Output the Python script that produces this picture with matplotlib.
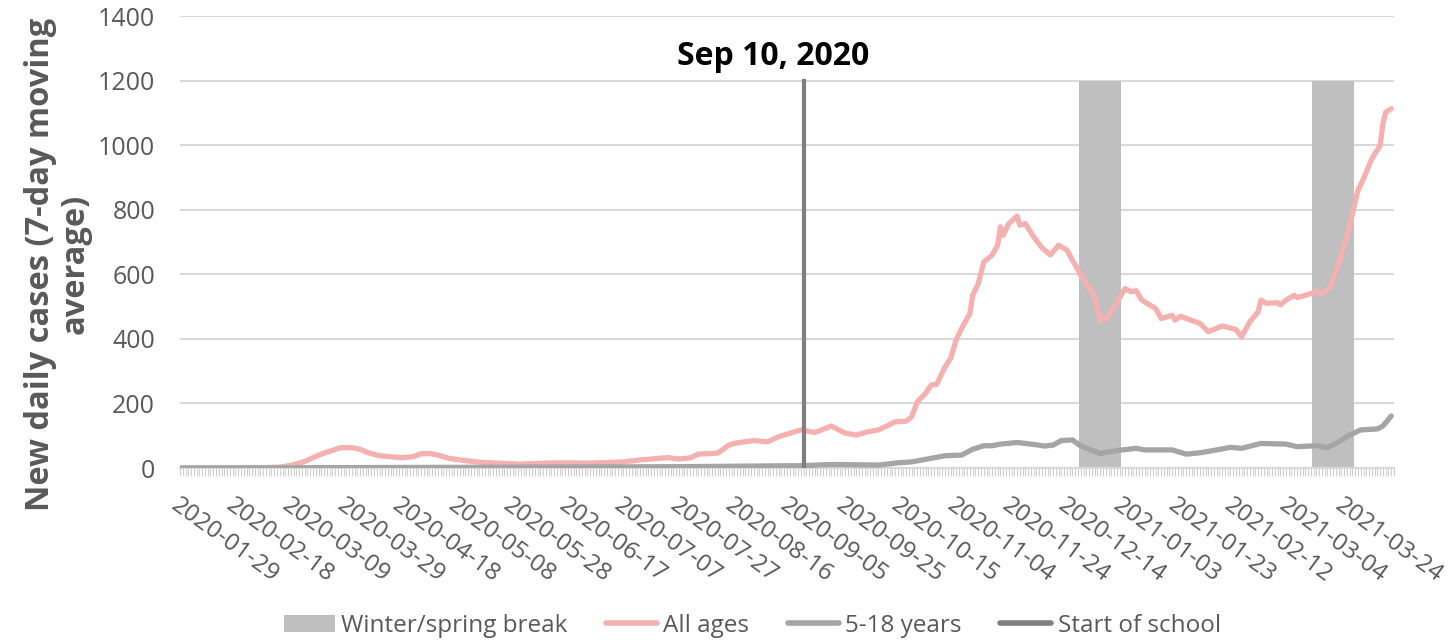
import pandas as pd
import matplotlib
matplotlib.use("Agg")
import matplotlib.pyplot as plt
import matplotlib.dates as mdates
from matplotlib.patches import Patch
from matplotlib.lines import Line2D

plt.rcParams['font.family'] = ['Open Sans', 'DejaVu Sans']

# values (7-day moving average of new daily cases)
all_ages_dates = [
    "2020-01-29", "2020-02-18", "2020-02-28", "2020-03-05", "2020-03-09", "2020-03-14",
    "2020-03-19", "2020-03-23", "2020-03-27", "2020-03-31", "2020-04-03", "2020-04-06",
    "2020-04-10", "2020-04-14", "2020-04-18", "2020-04-22", "2020-04-25", "2020-04-28",
    "2020-05-01", "2020-05-05", "2020-05-10", "2020-05-16", "2020-05-23", "2020-05-30",
    "2020-06-13", "2020-06-25", "2020-07-07", "2020-07-13", "2020-07-23", "2020-07-27",
    "2020-07-31", "2020-08-03", "2020-08-10", "2020-08-14", "2020-08-17", "2020-08-23",
    "2020-08-28", "2020-09-01", "2020-09-09", "2020-09-14", "2020-09-20", "2020-09-25",
    "2020-09-29", "2020-10-03", "2020-10-07", "2020-10-10", "2020-10-13", "2020-10-17",
    "2020-10-19", "2020-10-21", "2020-10-24", "2020-10-26", "2020-10-28", "2020-10-31",
    "2020-11-02", "2020-11-04", "2020-11-06", "2020-11-09", "2020-11-10", "2020-11-12",
    "2020-11-14", "2020-11-17", "2020-11-19", "2020-11-20", "2020-11-21", "2020-11-23",
    "2020-11-26", "2020-11-27", "2020-11-29", "2020-12-02", "2020-12-05", "2020-12-08",
    "2020-12-11", "2020-12-14", "2020-12-19", "2020-12-24", "2020-12-26", "2020-12-28",
    "2020-12-31", "2021-01-04", "2021-01-06", "2021-01-08", "2021-01-10", "2021-01-15",
    "2021-01-17", "2021-01-21", "2021-01-22", "2021-01-24", "2021-01-27", "2021-01-31",
    "2021-02-03", "2021-02-08", "2021-02-13", "2021-02-15", "2021-02-18", "2021-02-21",
    "2021-02-22", "2021-02-24", "2021-02-28", "2021-03-01", "2021-03-03", "2021-03-06",
    "2021-03-07", "2021-03-10", "2021-03-14", "2021-03-16", "2021-03-19", "2021-03-22",
    "2021-03-25", "2021-03-27", "2021-03-29", "2021-03-31", "2021-04-03", "2021-04-06",
    "2021-04-07", "2021-04-08", "2021-04-10",
]
all_ages = [
    0, 0, 1, 3, 8, 20,
    40, 52, 63, 63, 58, 47,
    38, 35, 32, 35, 44, 45,
    40, 30, 24, 18, 15, 12,
    16, 15, 19, 25, 32, 28,
    31, 43, 46, 71, 78, 85,
    81, 97, 118, 110, 130, 108,
    102, 112, 118, 130, 143, 145,
    159, 205, 231, 257, 259, 313,
    339, 396, 432, 479, 535, 571,
    638, 659, 690, 747, 721, 757,
    780, 752, 757, 716, 682, 660,
    690, 675, 597, 530, 458, 460,
    499, 556, 546, 549, 520, 494,
    463, 473, 458, 470, 460, 448,
    422, 440, 429, 406, 453, 484,
    520, 510, 512, 505, 520, 535,
    528, 535, 546, 539, 561, 633,
    716, 788, 860, 896, 958, 999,
    1066, 1102, 1113,
]

kids_dates = [
    "2020-01-29", "2020-05-08", "2020-07-27", "2020-09-05", "2020-09-09", "2020-09-20",
    "2020-10-07", "2020-10-14", "2020-10-19", "2020-10-26", "2020-10-31", "2020-11-06",
    "2020-11-10", "2020-11-14", "2020-11-17", "2020-11-20", "2020-11-26", "2020-12-02",
    "2020-12-06", "2020-12-09", "2020-12-12", "2020-12-16", "2020-12-19", "2020-12-26",
    "2021-01-01", "2021-01-08", "2021-01-11", "2021-01-21", "2021-01-26", "2021-01-31",
    "2021-02-04", "2021-02-11", "2021-02-15", "2021-02-22", "2021-03-03", "2021-03-07",
    "2021-03-14", "2021-03-18", "2021-03-21", "2021-03-26", "2021-03-30", "2021-04-05",
    "2021-04-07", "2021-04-10",
]
kids = [
    0, 2, 4, 7, 7, 11,
    9, 16, 19, 30, 38, 40,
    58, 69, 69, 74, 79, 73,
    68, 71, 85, 87, 68, 45,
    54, 61, 56, 56, 43, 47,
    53, 64, 61, 76, 74, 66,
    69, 63, 76, 102, 118, 121,
    130, 161,
]

break_periods = [("2020-12-19", "2021-01-02"), ("2021-03-13", "2021-03-27")]
break_height = 1200
school_start = "2020-09-10"
school_top = 1200
first_day = "2020-01-29"
last_day = "2021-04-11"

grey_text = '#595959'

fig = plt.figure(figsize=(14.53, 6.40), dpi=100)
ax = fig.add_axes([180 / 1453, 1 - 468 / 640, (1394 - 180) / 1453, (468 - 16) / 640])

for start, end in break_periods:
    days = pd.date_range(start, end, freq='D')
    ax.bar(days, [break_height] * len(days), width=1.0, color='#bfbfbf', linewidth=0, zorder=1)

ax.plot(pd.to_datetime(all_ages_dates), all_ages, color='#f4b1b0', lw=3.8,
        solid_joinstyle='round', solid_capstyle='round', zorder=3)
ax.plot(pd.to_datetime(kids_dates), kids, color='#a5a5a5', lw=3.8,
        solid_joinstyle='round', solid_capstyle='round', zorder=4)
sd = pd.Timestamp(school_start)
ax.plot([sd, sd], [0, school_top], color='#7f7f7f', lw=3, zorder=5)
ax.annotate("Sep 10, 2020", xy=(sd, school_top), xytext=(-22, 11), textcoords='offset points',
            ha='center', va='baseline', fontsize=23, fontweight='bold', color='black')

ax.set_xlim(pd.Timestamp(first_day), pd.Timestamp(last_day))
ax.set_ylim(0, 1400)
ax.set_yticks(range(0, 1401, 200))
ax.grid(axis='y', color='#d9d9d9', lw=1.5, zorder=0)
ax.set_axisbelow(True)

major = pd.date_range(first_day, periods=22, freq='20D')
ax.set_xticks(major)
ax.set_xticklabels([d.strftime('%Y-%m-%d') for d in major], rotation=-36,
                   ha='left', va='top', rotation_mode='anchor')
ax.xaxis.set_minor_locator(mdates.DayLocator())
ax.tick_params(axis='x', which='both', length=6, width=0.8, color='#d0d0d0',
               labelsize=17.5, labelcolor=grey_text, pad=12)
ax.tick_params(axis='y', length=0, labelsize=18, labelcolor=grey_text, pad=18)

for side in ['top', 'right', 'left']:
    ax.spines[side].set_visible(False)
ax.spines['bottom'].set_color('#d9d9d9')
ax.spines['bottom'].set_linewidth(1.5)

fig.text(58 / 1453, 1 - 264 / 640, "New daily cases (7-day moving\naverage)", rotation=90,
         ha='center', va='center', multialignment='center', fontsize=23.5,
         fontweight='bold', color=grey_text, linespacing=1.05)

handles = [
    Patch(facecolor='#bfbfbf', edgecolor='none'),
    Line2D([], [], color='#f4b1b0', lw=4, solid_capstyle='round'),
    Line2D([], [], color='#a5a5a5', lw=4, solid_capstyle='round'),
    Line2D([], [], color='#7f7f7f', lw=4, solid_capstyle='round'),
]
labels = ["Winter/spring break", "All ages", "5-18 years", "Start of school"]
leg = fig.legend(handles, labels, loc='center', bbox_to_anchor=(0.5176, 0.022), ncol=4,
                 frameon=False, fontsize=17.5, handlelength=2.1, columnspacing=1.6,
                 handletextpad=0.25)
for t in leg.get_texts():
    t.set_color(grey_text)

fig.savefig("out.png", dpi=100)
